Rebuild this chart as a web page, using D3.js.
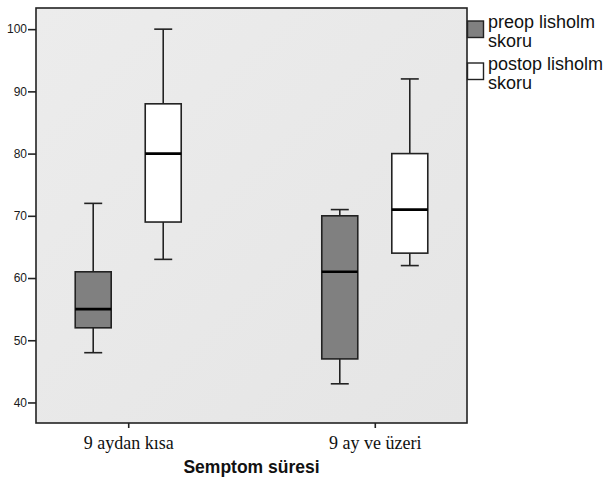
<!DOCTYPE html>
<html>
<head>
<meta charset="utf-8">
<script src="https://cdnjs.cloudflare.com/ajax/libs/d3/7.9.0/d3.min.js"></script>
<style>
  html, body { margin: 0; padding: 0; background: #fff; }
</style>
</head>
<body>
<div id="grafik"></div>
<script>
// gruplar (x ekseni) ve seriler
const gruplar = ["9 aydan kısa", "9 ay ve üzeri"];
const seriler = ["preop lisholm skoru", "postop lisholm skoru"];

// kutu değerleri: [alt bıyık, Q1, medyan, Q3, üst bıyık]
const preopDegerler  = [[48, 52, 55, 61, 72], [43, 47, 61, 70, 71]];
const postopDegerler = [[63, 69, 80, 88, 100], [62, 64, 71, 80, 92]];

const yTikler = [40, 50, 60, 70, 80, 90, 100];

const W = 606, H = 478;
const alan = { sol: 36, sag: 467, ust: 8, alt: 423 };

const svg = d3.select("#grafik").append("svg")
  .attr("width", W).attr("height", H)
  .style("font-family", "Arial, 'Liberation Sans', sans-serif");

const y = d3.scaleLinear().domain([36.7, 103.4]).range([alan.alt, alan.ust]);
const x = d3.scalePoint().domain(gruplar).range([alan.sol, alan.sag]).padding(0.374);
const xIc = d3.scaleBand().domain(seriler).range([-53, 53]).paddingInner(0.486);

const renkler = { [seriler[0]]: "#808080", [seriler[1]]: "#ffffff" };
const koyu = "#222";

// arka plan
const grad = svg.append("defs").append("linearGradient")
  .attr("id", "arkaplan").attr("x1", 0).attr("y1", 0).attr("x2", 1).attr("y2", 1);
grad.append("stop").attr("offset", "0%").attr("stop-color", "#ececec");
grad.append("stop").attr("offset", "100%").attr("stop-color", "#e5e5e5");

svg.append("rect")
  .attr("x", alan.sol).attr("y", alan.ust)
  .attr("width", alan.sag - alan.sol).attr("height", alan.alt - alan.ust)
  .attr("fill", "url(#arkaplan)")
  .attr("stroke", koyu).attr("stroke-width", 1.6);

// y ekseni
const yEksen = svg.append("g")
  .attr("transform", `translate(${alan.sol},0)`)
  .call(d3.axisLeft(y).tickValues(yTikler).tickSize(8).tickPadding(1));
yEksen.select(".domain").remove();
yEksen.selectAll("line").attr("stroke", koyu).attr("stroke-width", 1.6);
yEksen.selectAll("text")
  .attr("fill", "#1a1a1a").style("font-size", "12px")
  .style("font-family", "Arial, 'Liberation Sans', sans-serif");

// x ekseni
const xEksen = svg.append("g")
  .attr("transform", `translate(0,${alan.alt})`)
  .call(d3.axisBottom(x).tickSize(5).tickPadding(8));
xEksen.select(".domain").remove();
xEksen.selectAll("line").attr("stroke", koyu).attr("stroke-width", 1.6);
xEksen.selectAll("text")
  .attr("fill", "#111").style("font-size", "18px")
  .style("font-family", "'Liberation Serif', 'Times New Roman', serif");

svg.append("text")
  .attr("x", (alan.sol + alan.sag) / 2).attr("y", 473)
  .attr("text-anchor", "middle")
  .style("font-size", "17.5px").style("font-weight", "bold")
  .attr("fill", "#111")
  .text("Semptom süresi");

// kutular
const veri = [];
gruplar.forEach((g, i) => {
  veri.push({ grup: g, seri: seriler[0], d: preopDegerler[i] });
  veri.push({ grup: g, seri: seriler[1], d: postopDegerler[i] });
});

const bw = xIc.bandwidth();
const kutu = svg.append("g").selectAll("g").data(veri).join("g")
  .attr("transform", d => `translate(${x(d.grup) + xIc(d.seri)},0)`);

// bıyıklar
kutu.append("line")
  .attr("x1", bw / 2).attr("x2", bw / 2)
  .attr("y1", d => y(d.d[0])).attr("y2", d => y(d.d[4]))
  .attr("stroke", koyu).attr("stroke-width", 1.6);
[0, 4].forEach(k => {
  kutu.append("line")
    .attr("x1", bw / 4).attr("x2", bw * 3 / 4)
    .attr("y1", d => y(d.d[k])).attr("y2", d => y(d.d[k]))
    .attr("stroke", koyu).attr("stroke-width", 1.6);
});

kutu.append("rect")
  .attr("x", 0).attr("width", bw)
  .attr("y", d => y(d.d[3]))
  .attr("height", d => y(d.d[1]) - y(d.d[3]))
  .attr("fill", d => renkler[d.seri])
  .attr("stroke", koyu).attr("stroke-width", 1.6);

kutu.append("line")
  .attr("x1", 0).attr("x2", bw)
  .attr("y1", d => y(d.d[2])).attr("y2", d => y(d.d[2]))
  .attr("stroke", "#000").attr("stroke-width", 2.6);

// lejant
const lejant = svg.append("g").attr("transform", `translate(${alan.sag},21)`);
seriler.forEach((s, i) => {
  const g = lejant.append("g").attr("transform", `translate(0,${i * 42})`);
  g.append("rect")
    .attr("x", 0.5).attr("y", 0).attr("width", 16).attr("height", 16.5)
    .attr("fill", renkler[s]).attr("stroke", koyu).attr("stroke-width", 1.4);
  const t = g.append("text")
    .attr("x", 21).attr("y", 7)
    .style("font-size", "18px").attr("fill", "#111");
  t.append("tspan").attr("x", 21).attr("dy", 0).text(s.replace(" skoru", ""));
  t.append("tspan").attr("x", 21).attr("dy", 19).text("skoru");
});
</script>
</body>
</html>
